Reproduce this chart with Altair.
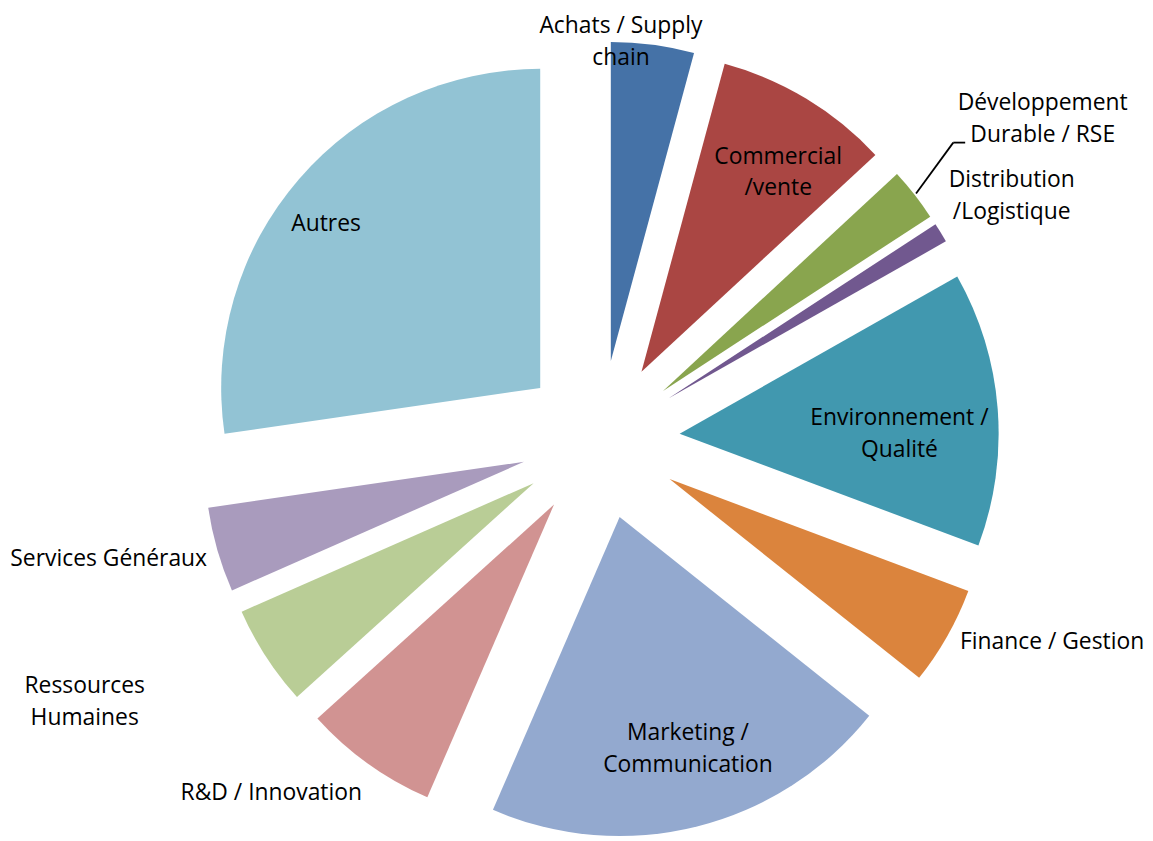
import altair as alt
import pandas as pd

# ---- data ----
categories = ["Achats / Supply chain", "Commercial /vente", "Développement Durable / RSE",
              "Distribution /Logistique", "Environnement / Qualité", "Finance / Gestion",
              "Marketing / Communication", "R&D / Innovation", "Ressources Humaines",
              "Services Généraux", "Autres"]
values = [4.2, 8.9, 2.7, 1.0, 13.9, 5.0, 20.8, 6.8, 5.1, 4.3, 27.3]
labels = ["Achats / Supply\nchain", "Commercial\n/vente", "Développement\nDurable / RSE",
          "Distribution\n/Logistique", "Environnement /\nQualité", "Finance / Gestion",
          "Marketing /\nCommunication", "R&D / Innovation", "Ressources\nHumaines",
          "Services Généraux", "Autres"]

# ---- style / layout ----
colors = ["#4572A7", "#AA4643", "#89A54E", "#71588F", "#4198AF", "#DB843D",
          "#93A9CF", "#D19392", "#B9CD96", "#A99BBD", "#92C3D4"]
label_radius = [401, 323, 550, 481, 301, 498, 323, 486, 582, 509, 351]
label_angle_shift = [-4.6, 2.5, 2.0, 0.7, 3.4, -5.4, -1.8, 7.3, 6.0, 2.4, -2.7]
W, H = 1137, 825
CX, CY = 596, 432
R = 321
EXPLODE = 80
LINE_H = 32

df = pd.DataFrame({
    "cat": categories, "value": values, "label": labels, "color": colors,
    "lr": label_radius, "ls": label_angle_shift, "order": list(range(len(categories))),
})

base = alt.Chart(df).transform_joinaggregate(
    total="sum(value)"
).transform_window(
    cum="sum(value)", sort=[alt.SortField("order")]
).transform_calculate(
    t0="(datum.cum - datum.value) / datum.total * 2 * PI",
    t1="datum.cum / datum.total * 2 * PI",
    nl="length(split(datum.label, '\\n'))",
).transform_calculate(
    mid="(datum.t0 + datum.t1) / 2"
).transform_calculate(
    px=f"{CX} + {EXPLODE} * sin(datum.mid)",
    py=f"{CY} - {EXPLODE} * cos(datum.mid)",
    lx=f"{CX} + datum.lr * sin(datum.mid + datum.ls * PI / 180)",
    ly=f"{CY} - datum.lr * cos(datum.mid + datum.ls * PI / 180)",
    sx=f"{CX} + {EXPLODE + R + 2} * sin(datum.mid)",
    sy=f"{CY} - {EXPLODE + R + 2} * cos(datum.mid)",
).transform_calculate(
    ly1=f"datum.ly - (datum.nl - 1) * {LINE_H} / 2"
)

arcs = base.mark_arc(outerRadius=R, innerRadius=0).encode(
    theta=alt.Theta("t0:Q", scale=None),
    theta2="t1:Q",
    x=alt.X("px:Q", scale=None, axis=None, stack=False),
    y=alt.Y("py:Q", scale=None, axis=None, stack=False),
    color=alt.Color("color:N", scale=None),
)

texts = base.mark_text(font="Open Sans", fontSize=23, lineBreak="\n", lineHeight=LINE_H,
                       align="center", baseline="middle", color="#000000").encode(
    x=alt.X("lx:Q", scale=None, axis=None, stack=False),
    y=alt.Y("ly1:Q", scale=None, axis=None, stack=False),
    text="label:N",
)

leader_base = base.transform_filter(alt.datum.cat == "Développement Durable / RSE").transform_calculate(
    ex="datum.lx - 90", ey="datum.ly + 24", hx="datum.lx - 78"
)
leader1 = leader_base.mark_rule(color="#000000", strokeWidth=1.8).encode(
    x=alt.X("sx:Q", scale=None, axis=None),
    y=alt.Y("sy:Q", scale=None, axis=None),
    x2="ex:Q", y2="ey:Q",
)
leader2 = leader_base.mark_rule(color="#000000", strokeWidth=1.8).encode(
    x=alt.X("ex:Q", scale=None, axis=None),
    y=alt.Y("ey:Q", scale=None, axis=None),
    x2="hx:Q", y2="ey:Q",
)

chart = alt.layer(arcs, leader1, leader2, texts).properties(
    width=W, height=H, padding=0
).configure_view(stroke=None)

chart.save("out.html", embed_options={"renderer": "svg", "actions": False})
